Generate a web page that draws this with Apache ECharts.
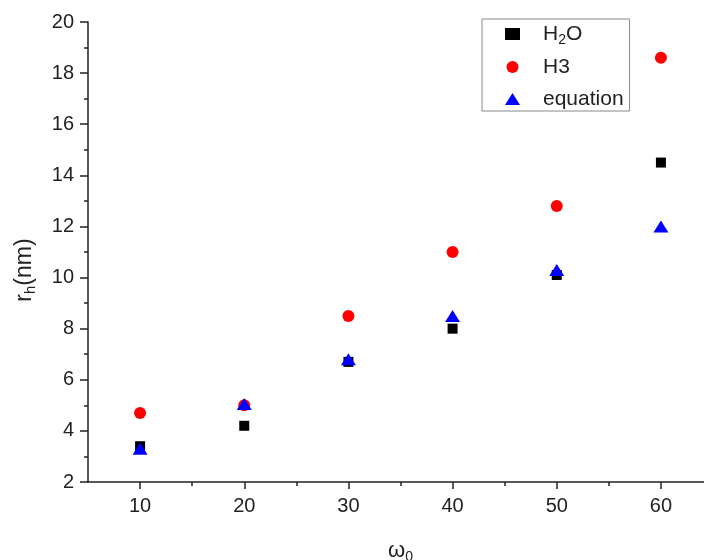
<!DOCTYPE html>
<html>
<head>
<meta charset="utf-8">
<script src="https://cdn.jsdelivr.net/npm/echarts@6/dist/echarts.min.js"></script>
<style>
  html, body { margin: 0; padding: 0; background: #fff; }
  #chart { width: 704px; height: 560px; }
</style>
</head>
<body>
<div id="chart"></div>
<script>
// ω0 values on the x axis
const omega = [10, 20, 30, 40, 50, 60];
// hydrodynamic radius r_h (nm) for each series
const h2o = [3.4, 4.2, 6.7, 8.0, 10.1, 14.5];
const h3 = [4.7, 5.0, 8.5, 11.0, 12.8, 18.6];
const equation = [3.3, 5.05, 6.8, 8.5, 10.3, 12.0];
// tick positions
const xMajorTicks = [10, 20, 30, 40, 50, 60];
const xMinorTicks = [15, 25, 35, 45, 55];

const pairs = (xs, ys) => xs.map((x, i) => [x, ys[i]]);

const FONT = '"Liberation Sans", Arial, sans-serif';
const AXIS_COLOR = '#222';

const chart = echarts.init(document.getElementById('chart'), null, { renderer: 'canvas' });

chart.setOption({
  animation: false,
  backgroundColor: '#fff',
  textStyle: { fontFamily: FONT },
  grid: { left: 88, top: 22, width: 625, height: 460, outerBoundsMode: 'none', containLabel: false },
  legend: {
    orient: 'vertical',
    left: 482,
    top: 19,
    padding: [2, 6, 0, 23],
    itemGap: 8,
    itemWidth: 15,
    itemHeight: 12,
    borderColor: '#888',
    borderWidth: 1,
    data: ['H2O', 'H3', 'equation'],
    formatter: (name) => name === 'H2O' ? '{t|H}{s|2}{t|O}' : '{t|' + name + '}',
    textStyle: {
      color: '#222',
      fontFamily: FONT,
      fontSize: 21,
      lineHeight: 24,
      padding: [0, 0, 0, 18],
      rich: {
        t: { fontSize: 21, lineHeight: 24, fontFamily: FONT, color: '#222' },
        s: { fontSize: 14, lineHeight: 24, padding: [12, 0, 0, 0], fontFamily: FONT, color: '#222' }
      }
    }
  },
  xAxis: [
    {
      type: 'value',
      min: 5,
      max: 65,
      interval: 5,
      name: '{m|ω}{s|0}',
      nameLocation: 'middle',
      nameGap: 56,
      nameTextStyle: {
        rich: {
          m: { fontSize: 22, fontFamily: FONT, color: '#222', lineHeight: 26 },
          s: { fontSize: 14, fontFamily: FONT, color: '#222', lineHeight: 26, padding: [12, 0, 0, 0] }
        }
      },
      splitLine: { show: false },
      axisLine: { lineStyle: { color: AXIS_COLOR, width: 1.5 } },
      axisTick: {
        customValues: xMajorTicks,
        length: 7,
        inside: false,
        lineStyle: { color: AXIS_COLOR, width: 1.5 }
      },
      axisLabel: {
        customValues: xMajorTicks,
        margin: 14,
        fontSize: 20,
        color: '#222',
        fontFamily: FONT
      }
    },
    {
      type: 'value',
      min: 5,
      max: 65,
      interval: 5,
      position: 'bottom',
      splitLine: { show: false },
      axisLine: { show: false },
      axisLabel: { show: false },
      axisTick: {
        customValues: xMinorTicks,
        length: 4,
        lineStyle: { color: AXIS_COLOR, width: 1.5 }
      }
    }
  ],
  yAxis: {
    type: 'value',
    min: 2,
    max: 20,
    interval: 2,
    name: '{m|r}{s|h}{m|(nm)}',
    nameLocation: 'middle',
    nameGap: 50,
    nameRotate: 90,
    nameTextStyle: {
      padding: [0, 36, 0, 0],
      rich: {
        m: { fontSize: 23, fontFamily: FONT, color: '#222', lineHeight: 26 },
        s: { fontSize: 15, fontFamily: FONT, color: '#222', lineHeight: 26, padding: [12, 0, 0, 0] }
      }
    },
    splitLine: { show: false },
    axisLine: { show: true, lineStyle: { color: AXIS_COLOR, width: 1.5 } },
    axisTick: { length: 8, lineStyle: { color: AXIS_COLOR, width: 1.5 } },
    minorTick: { show: true, splitNumber: 2, length: 4, lineStyle: { color: AXIS_COLOR, width: 1.5 } },
    axisLabel: { margin: 14, fontSize: 20, color: '#222', fontFamily: FONT }
  },
  series: [
    {
      name: 'H2O',
      type: 'scatter',
      xAxisIndex: 0,
      symbol: 'rect',
      symbolSize: 10,
      itemStyle: { color: '#000', opacity: 1 },
      data: pairs(omega, h2o)
    },
    {
      name: 'H3',
      type: 'scatter',
      xAxisIndex: 0,
      symbol: 'circle',
      symbolSize: 12,
      itemStyle: { color: '#ff0000', opacity: 1 },
      data: pairs(omega, h3)
    },
    {
      name: 'equation',
      type: 'scatter',
      xAxisIndex: 0,
      symbol: 'triangle',
      symbolSize: [15, 12],
      itemStyle: { color: '#0000ff', opacity: 1 },
      data: pairs(omega, equation)
    }
  ]
});
</script>
</body>
</html>
